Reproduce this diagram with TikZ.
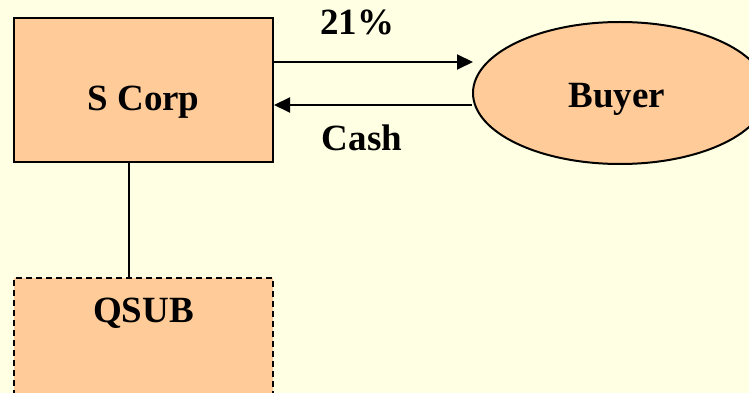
\documentclass[tikz,border=0pt]{standalone}
\usepackage{fontspec}
\setmainfont{Liberation Serif}
\usetikzlibrary{shapes.geometric,arrows.meta}
\definecolor{paper}{HTML}{FFFFE3}
\definecolor{peach}{HTML}{FFCC99}
\tikzset{
  entity/.style={draw=black, fill=peach, line width=2pt, inner sep=0pt},
  caption/.style={font=\fontsize{37}{44}\selectfont\bfseries, inner sep=0pt, anchor=base},
  flow/.style={line width=2pt, -{Triangle[length=16pt,width=15pt]}},
}
\begin{document}
\begin{tikzpicture}[x=1pt,y=-1pt]
  \fill[paper] (0,0) rectangle (749,393);
  \useasboundingbox (0,0) rectangle (749,393);
  \clip (0,0) rectangle (749,393);

  % parent corporation
  \node[entity, rectangle, minimum width=259pt, minimum height=144pt] (scorp) at (143.5,90) {};
  \node[caption] (scorplbl) at (143.5,110.5) {S Corp};

  % subsidiary, its lower edge runs past the page
  \node[entity, rectangle, dashed, dash pattern=on 6pt off 4pt, minimum width=259pt, minimum height=130pt] (qsub) at (143.5,343) {};
  \node[caption] (qsublbl) at (143.5,322.5) {QSUB};

  % buyer
  \node[entity, ellipse, minimum width=294pt, minimum height=142pt] (buyer) at (620,93) {};
  \node[caption] (buyerlbl) at (617,107) {Buyer};

  % ownership link
  \coordinate (linktop) at (129,0 |- scorp.south);
  \coordinate (linkbot) at (129,0 |- qsub.north);
  \draw[line width=2pt] (linktop) -- (linkbot);

  % exchange arrows
  \coordinate (stockfrom) at (scorp.east |- 0,62);
  \coordinate (stockto) at (473,62);
  \coordinate (cashfrom) at (buyer.west |- 0,105);
  \coordinate (cashto) at (scorp.east |- 0,105);
  \draw[flow] (stockfrom) -- (stockto);
  \draw[flow] (cashfrom) -- (cashto);
  \node[caption] (pct) at (357,35) {21\%};
  \node[caption] (cash) at (362,150) {Cash};
\end{tikzpicture}
\end{document}
